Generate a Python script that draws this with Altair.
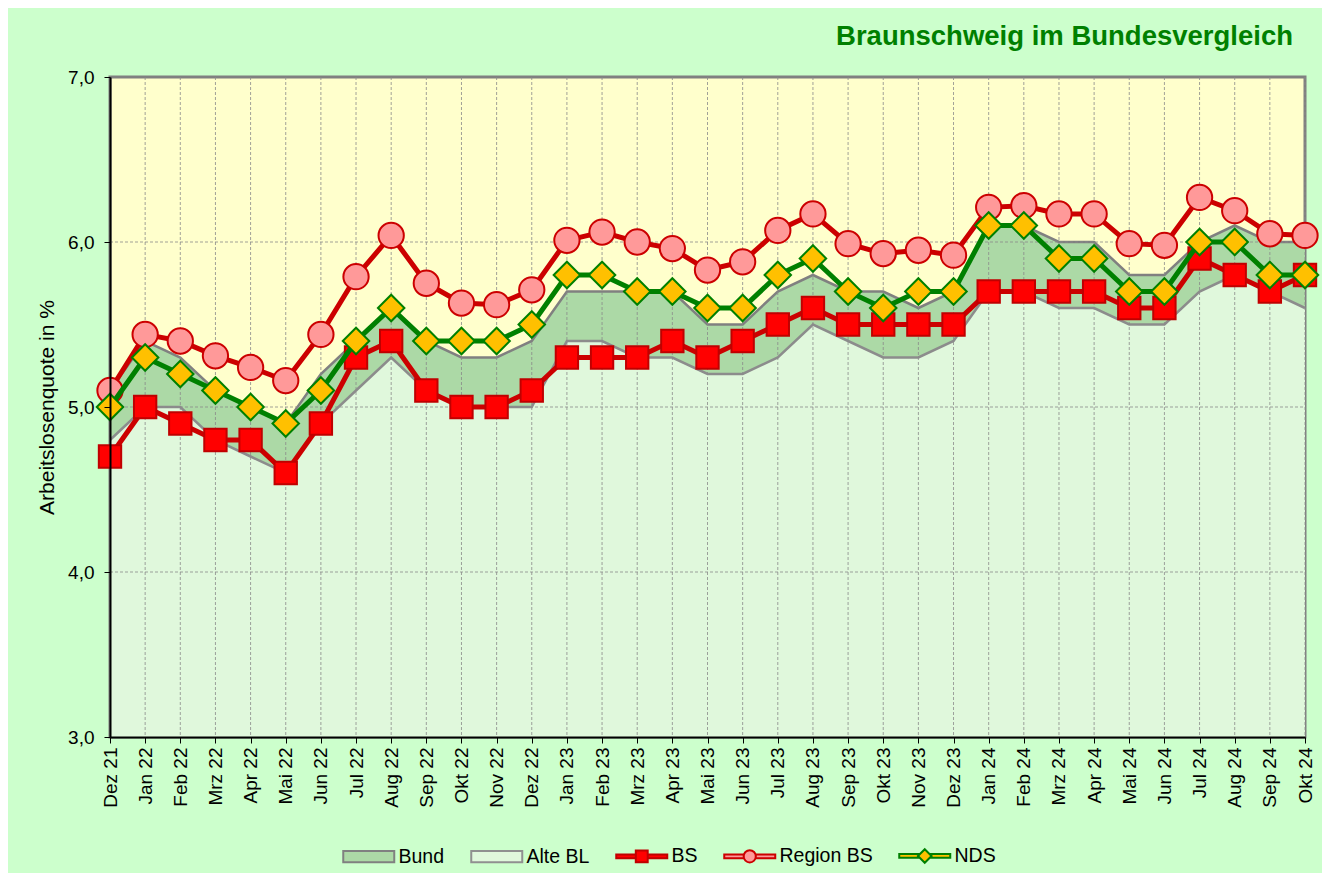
import altair as alt
import pandas as pd

months = ["Dez 21", "Jan 22", "Feb 22", "Mrz 22", "Apr 22", "Mai 22", "Jun 22", "Jul 22",
          "Aug 22", "Sep 22", "Okt 22", "Nov 22", "Dez 22", "Jan 23", "Feb 23", "Mrz 23",
          "Apr 23", "Mai 23", "Jun 23", "Jul 23", "Aug 23", "Sep 23", "Okt 23", "Nov 23",
          "Dez 23", "Jan 24", "Feb 24", "Mrz 24", "Apr 24", "Mai 24", "Jun 24", "Jul 24",
          "Aug 24", "Sep 24", "Okt 24"]

bund = [5.1, 5.4, 5.3, 5.1, 5.0, 4.9, 5.2, 5.4, 5.6, 5.4, 5.3, 5.3, 5.4, 5.7, 5.7, 5.7,
        5.7, 5.5, 5.5, 5.7, 5.8, 5.7, 5.7, 5.6, 5.7, 6.1, 6.1, 6.0, 6.0, 5.8, 5.8, 6.0,
        6.1, 6.0, 6.0]
alte_bl = [4.8, 5.0, 5.0, 4.8, 4.7, 4.6, 4.9, 5.1, 5.3, 5.1, 5.0, 5.0, 5.0, 5.4, 5.4, 5.3,
           5.3, 5.2, 5.2, 5.3, 5.5, 5.4, 5.3, 5.3, 5.4, 5.7, 5.7, 5.6, 5.6, 5.5, 5.5, 5.7,
           5.8, 5.7, 5.6]
bs = [4.7, 5.0, 4.9, 4.8, 4.8, 4.6, 4.9, 5.3, 5.4, 5.1, 5.0, 5.0, 5.1, 5.3, 5.3, 5.3,
      5.4, 5.3, 5.4, 5.5, 5.6, 5.5, 5.5, 5.5, 5.5, 5.7, 5.7, 5.7, 5.7, 5.6, 5.6, 5.9,
      5.8, 5.7, 5.8]
region_bs = [5.10, 5.44, 5.40, 5.31, 5.24, 5.16, 5.44, 5.79, 6.04, 5.75, 5.63, 5.62, 5.71,
             6.01, 6.06, 6.00, 5.96, 5.83, 5.88, 6.07, 6.17, 5.99, 5.93, 5.95, 5.92, 6.21,
             6.22, 6.17, 6.17, 5.99, 5.98, 6.27, 6.19, 6.05, 6.04]
nds = [5.0, 5.3, 5.2, 5.1, 5.0, 4.9, 5.1, 5.4, 5.6, 5.4, 5.4, 5.4, 5.5, 5.8, 5.8, 5.7,
       5.7, 5.6, 5.6, 5.8, 5.9, 5.7, 5.6, 5.7, 5.7, 6.1, 6.1, 5.9, 5.9, 5.7, 5.7, 6.0,
       6.0, 5.8, 5.8]

names = ["Bund", "Alte BL", "BS", "Region BS", "NDS"]
fills = ["#acd9a6", "#e0f8dc", "#ff0000", "#ff9999", "#ffc000"]
strokes = ["#808080", "#909090", "#c00000", "#cc0000", "#008000"]

FONT = "Liberation Sans, Arial, sans-serif"

rows = []
for name, vals in zip(names, [bund, alte_bl, bs, region_bs, nds]):
    for m, v in zip(months, vals):
        rows.append({"month": m, "series": name, "value": v})
df = pd.DataFrame(rows)

grid_y = pd.DataFrame({"value": [4.0, 5.0, 6.0]})
grid_x = pd.DataFrame({"month": months})
legend_df = pd.DataFrame({"series": names})

xscale = alt.Scale(type="point", domain=months, padding=0)
yscale = alt.Scale(domain=[3, 7], nice=False, zero=False)

x_axis = alt.Axis(labelAngle=270, labelFontSize=19, labelFont=FONT, labelColor="black",
                  tickColor="black", tickSize=6, domainColor="black", domainWidth=2,
                  labelPadding=4, grid=False, zindex=1, title=None)
y_axis = alt.Axis(values=[3, 4, 5, 6, 7], labelExpr="replace(format(datum.value, '.1f'), '.', ',')",
                  labelFontSize=19, labelFont=FONT, labelColor="black", tickColor="black",
                  tickSize=6, domainColor="black", domainWidth=2, labelPadding=10, grid=False,
                  titleFont=FONT, titleFontSize=21, titleFontWeight="normal", titleColor="black",
                  titlePadding=10, zindex=1, title="Arbeitslosenquote in %")

X = alt.X("month:O", scale=xscale, sort=months, axis=x_axis)
Y = alt.Y("value:Q", scale=yscale, axis=y_axis)

base = alt.Chart(df)

area_bund = base.transform_filter(alt.datum.series == "Bund").mark_area(
    color=fills[0], opacity=1, line={"color": "#808080", "strokeWidth": 2.5}
).encode(x=X, y=Y, y2=alt.datum(3))

area_alt = base.transform_filter(alt.datum.series == "Alte BL").mark_area(
    color=fills[1], opacity=1, line={"color": "#8c8c8c", "strokeWidth": 2.5}
).encode(x=X, y=Y, y2=alt.datum(3))

vgrid = alt.Chart(grid_x).mark_rule(color="#8a8a8a", strokeWidth=1, strokeDash=[3, 2], opacity=0.8).encode(
    x=X, y=alt.value(0), y2=alt.value(660))
hgrid = alt.Chart(grid_y).mark_rule(color="#8a8a8a", strokeWidth=1, strokeDash=[3, 2], opacity=0.8).encode(
    y=Y, x=alt.value(0), x2=alt.value(1195))


def line_layer(name, color):
    return base.transform_filter(alt.datum.series == name).mark_line(
        color=color, strokeWidth=5).encode(x=X, y=Y)


def point_layer(name, shape, size, fill, stroke):
    return base.transform_filter(alt.datum.series == name).mark_point(
        shape=shape, size=size, filled=True, fill=fill, stroke=stroke, strokeWidth=2, opacity=1
    ).encode(x=X, y=Y)


RECT = "M-3,-0.65H3V0.65H-3Z"
SEG = "M-3,-0.22H-0.7V0.22H-3Z M0.7,-0.22H3V0.22H0.7Z "
BS_P = SEG + "M-0.7,-0.7H0.7V0.7H-0.7Z"
REG_P = SEG + "M0.72,0 A0.72,0.72 0 1,1 -0.72,0 A0.72,0.72 0 1,1 0.72,0Z"
NDS_P = SEG + "M0,-0.8 L0.8,0 L0,0.8 L-0.8,0Z"
legend_shapes = [RECT, RECT, BS_P, REG_P, NDS_P]

legend = alt.Legend(
    title=None, orient="none", direction="horizontal", legendX=233, legendY=769,
    labelFont=FONT, labelFontSize=19.5, labelColor="black", symbolSize=289,
    symbolStrokeWidth=2, symbolOffset=16, labelOffset=20, columnPadding=22,
    symbolOpacity=1,
)

legend_layer = alt.Chart(legend_df).mark_point(filled=True, opacity=0, size=0).encode(
    fill=alt.Fill("series:N", scale=alt.Scale(domain=names, range=fills), legend=legend),
    stroke=alt.Stroke("series:N", scale=alt.Scale(domain=names, range=strokes), legend=legend),
    shape=alt.Shape("series:N", scale=alt.Scale(domain=names, range=legend_shapes), legend=legend),
)

chart = alt.layer(
    area_bund, area_alt, vgrid, hgrid,
    line_layer("BS", "#cc0000"), point_layer("BS", "square", 500, "#ff0000", "#c00000"),
    line_layer("Region BS", "#cc0000"), point_layer("Region BS", "circle", 640, "#ff9999", "#cc0000"),
    line_layer("NDS", "#008000"), point_layer("NDS", "diamond", 700, "#ffc000", "#008000"),
    legend_layer,
).properties(
    width=1195, height=660,
    background="#ccffcc",
    padding={"left": 102, "top": 69, "right": 17, "bottom": 136},
    autosize=alt.AutoSizeParams(type="none"),
    view=alt.ViewBackground(fill="#ffffcc", stroke="#808080", strokeWidth=3),
    title=alt.TitleParams("Braunschweig im Bundesvergleich", anchor="end", frame="group",
                          font=FONT, fontSize=27.5, fontWeight="bold", color="#008000",
                          offset=18, dx=-12),
)

chart.save("out.html", embed_options={"renderer": "svg", "actions": False})
